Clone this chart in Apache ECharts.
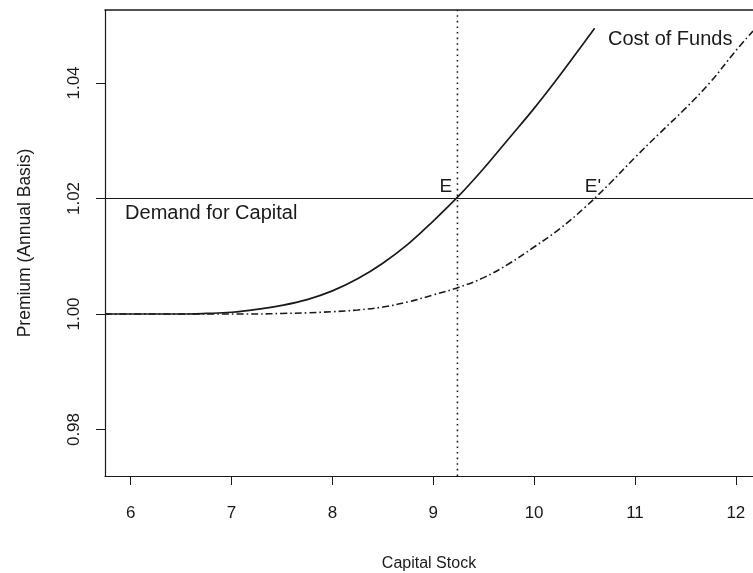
<!DOCTYPE html>
<html>
<head>
<meta charset="utf-8">
<script src="https://cdn.jsdelivr.net/npm/echarts@6/dist/echarts.min.js"></script>
<style>
html,body{margin:0;padding:0;background:#fff;}
#chart{width:753px;height:573px;}
</style>
</head>
<body>
<div id="chart"></div>
<script>
// Axis ticks
var xTicks = [6, 7, 8, 9, 10, 11, 12];
var yTicks = [0.98, 1.00, 1.02, 1.04];
var xRange = [5.746, 12.17];
var yRange = [0.97195, 1.05264];

// Cost of Funds (original, solid)
var costK = [5.746, 6.5, 6.75, 7.0, 7.25, 7.5, 7.75, 8.0, 8.25, 8.5, 8.75, 9.0, 9.25, 9.5, 9.75, 10.0, 10.25, 10.5, 10.6];
var costV = [1.0, 1.0, 1.0001, 1.0003, 1.0008, 1.0015, 1.0025, 1.0040, 1.0061, 1.0088, 1.0121, 1.0161, 1.0204, 1.0252, 1.0304, 1.0356, 1.0412, 1.0471, 1.0495];

// Shifted Cost of Funds (dash-dot)
var cost2K = [5.746, 7.25, 7.5, 7.75, 8.0, 8.25, 8.5, 8.75, 9.0, 9.25, 9.5, 9.75, 10.0, 10.25, 10.5, 10.75, 11.0, 11.25, 11.5, 11.75, 12.0, 12.17];
var cost2V = [1.0, 1.0, 1.0001, 1.0002, 1.0004, 1.0007, 1.0012, 1.0021, 1.0033, 1.0046, 1.0063, 1.0087, 1.0116, 1.0147, 1.0184, 1.0226, 1.0271, 1.0314, 1.0356, 1.0402, 1.0456, 1.0490];

// Demand for Capital (horizontal) and equilibrium capital (vertical)
var demandLevel = 1.02;
var equilibriumK = 9.24;

// Annotations [label, K, premium, align]
var notes = [
  ['E', 9.126, 1.0221, 'center'],
  ["E'", 10.583, 1.0221, 'center'],
  ['Demand for Capital', 5.945, 1.0174, 'left'],
  ['Cost of Funds', 10.732, 1.0476, 'left']
];

function zip(a, b) { return a.map(function (v, i) { return [v, b[i]]; }); }

var FONT = 'Liberation Sans, Arial, sans-serif';
var INK = '#1a1a1a';

var chart = echarts.init(document.getElementById('chart'), null, {renderer: 'canvas'});
chart.setOption({
  animation: false,
  backgroundColor: '#fff',
  grid: {left: 105, top: 10, right: 0, bottom: 97, show: false, containLabel: false, outerBoundsMode: 'none'},
  xAxis: [{
    type: 'value', min: xRange[0], max: xRange[1],
    name: 'Capital Stock', nameLocation: 'middle', nameGap: 80,
    nameTextStyle: {fontFamily: FONT, fontSize: 16, color: INK},
    axisLine: {show: true, onZero: false, lineStyle: {color: INK, width: 1.2}},
    axisTick: {show: true, length: 9, customValues: xTicks, lineStyle: {color: INK}},
    axisLabel: {customValues: xTicks, margin: 29, fontFamily: FONT, fontSize: 17, color: INK},
    splitLine: {show: false}
  }, {
    type: 'value', position: 'top', min: xRange[0], max: xRange[1],
    axisLine: {show: true, onZero: false, lineStyle: {color: INK, width: 1.5}},
    axisTick: {show: false}, axisLabel: {show: false}, splitLine: {show: false}
  }],
  yAxis: {
    type: 'value', min: yRange[0], max: yRange[1],
    name: 'Premium (Annual Basis)', nameLocation: 'middle', nameGap: 71, nameRotate: 90,
    nameTextStyle: {fontFamily: FONT, fontSize: 17.5, color: INK},
    axisLine: {show: true, onZero: false, lineStyle: {color: INK, width: 1.2}},
    axisTick: {show: true, length: 9, customValues: yTicks, lineStyle: {color: INK}},
    axisLabel: {customValues: yTicks, rotate: 90, margin: 22, fontFamily: FONT, fontSize: 17, color: INK,
      formatter: function (v) { return Number(v).toFixed(2); }},
    splitLine: {show: false}
  },
  series: [
    {type: 'line', data: [[xRange[0], demandLevel], [xRange[1], demandLevel]], showSymbol: false,
      lineStyle: {color: INK, width: 1.2}, silent: true},
    {type: 'line', data: [[equilibriumK, yRange[0]], [equilibriumK, yRange[1]]], showSymbol: false,
      lineStyle: {color: INK, width: 1.6, type: [1.6, 4]}, silent: true},
    {type: 'line', data: zip(costK, costV), showSymbol: false, smooth: 0.4,
      lineStyle: {color: INK, width: 1.7}, silent: true},
    {type: 'line', data: zip(cost2K, cost2V), showSymbol: false, smooth: 0.4,
      lineStyle: {color: INK, width: 1.6, type: [7, 3, 1.6, 3]}, silent: true},
    {type: 'scatter', symbolSize: 0, silent: true, itemStyle: {opacity: 1},
      data: notes.map(function (n) {
        return {value: [n[1], n[2]], label: {show: true, position: 'inside', formatter: n[0], align: n[3],
          fontFamily: FONT, fontSize: n[0].length > 2 ? 20 : 19, color: INK}};
      })}
  ]
});
</script>
</body>
</html>
